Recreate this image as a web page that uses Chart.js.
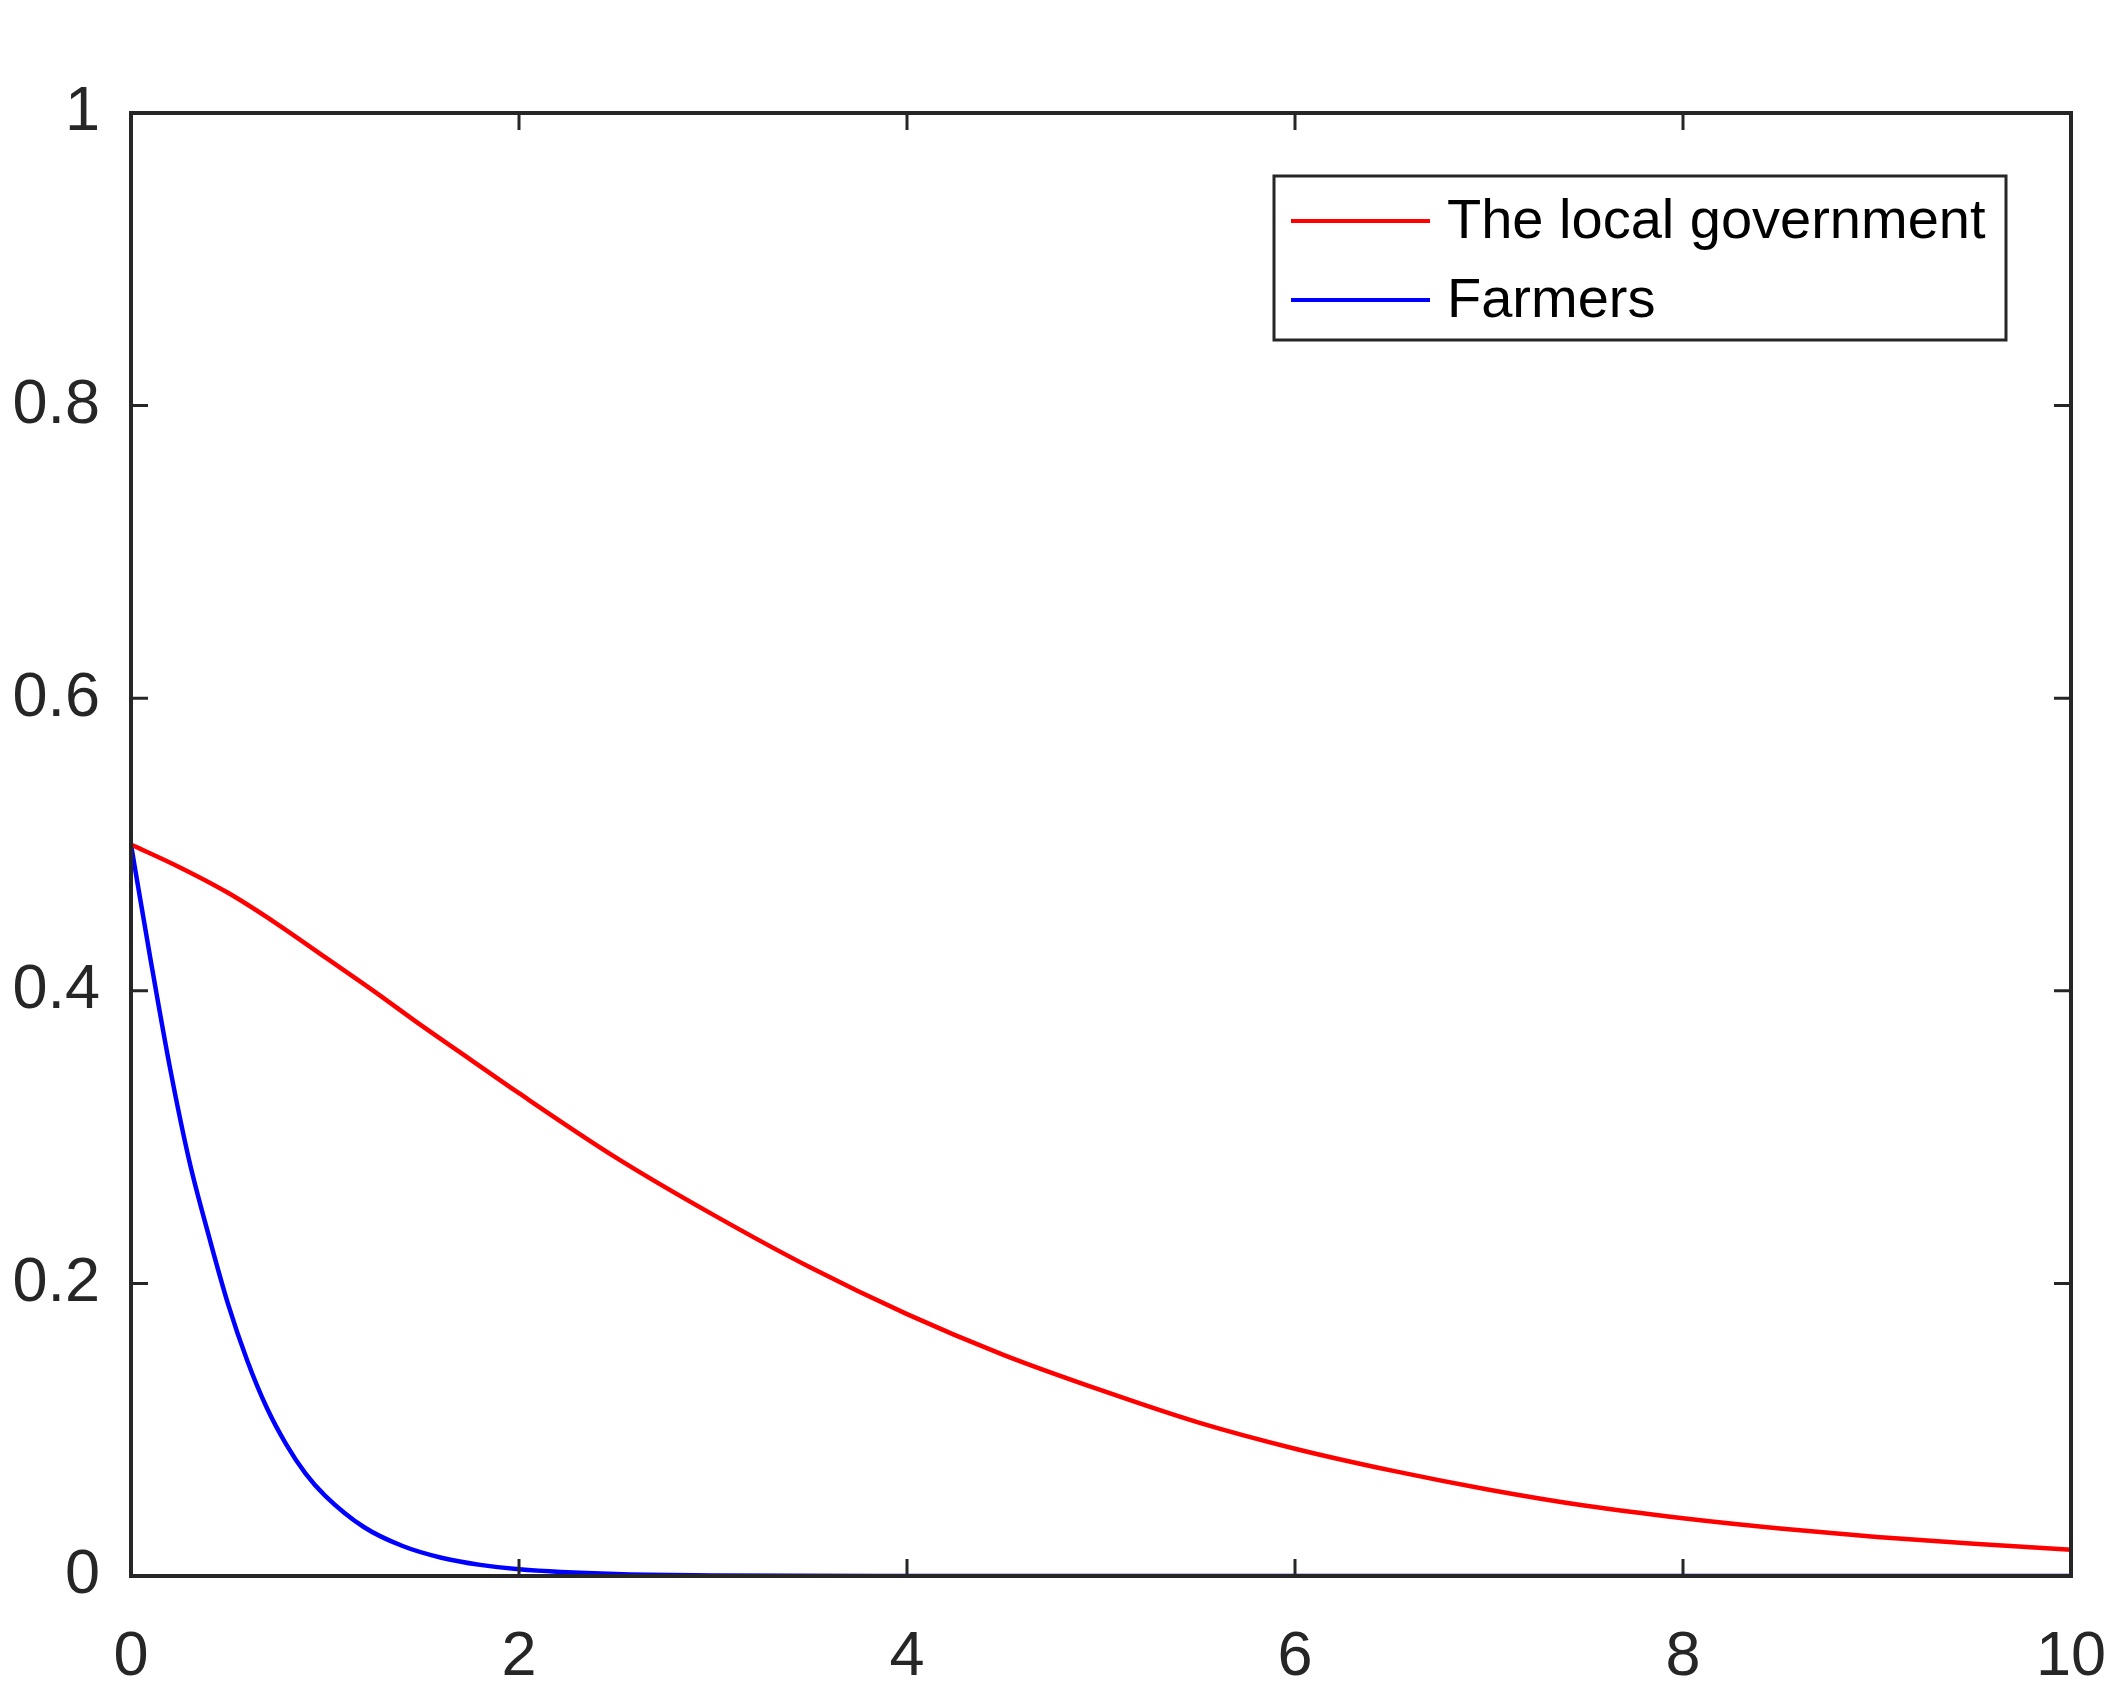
<!DOCTYPE html>
<html lang="en">
  <head>
    <meta charset="UTF-8" />
    <title>Evolution</title>
    <script src="https://cdn.jsdelivr.net/npm/chart.js"></script>
    <style>
      body { margin: 0; background: #fff; }
    </style>
  </head>
  <body>
    <canvas id="evoChart" width="2125" height="1698"></canvas>

    <script>
      // values
      const govTime = [0, 0.25, 0.5, 0.75, 1, 1.25, 1.5, 1.75, 2, 2.5, 3, 3.5, 4, 4.5, 5, 5.5, 6, 6.5, 7, 7.5, 8, 8.5, 9, 9.5, 10];
      const govValues = [0.5, 0.4845, 0.467, 0.446, 0.423, 0.4, 0.376, 0.353, 0.33, 0.286, 0.247, 0.211, 0.179, 0.151, 0.127, 0.105, 0.087, 0.072, 0.059, 0.048, 0.0395, 0.0325, 0.0267, 0.022, 0.018];

      const farmerTime = [0, 0.1, 0.2, 0.3, 0.4, 0.5, 0.6, 0.7, 0.8, 0.9, 1, 1.2, 1.4, 1.6, 1.8, 2, 2.5, 3, 4, 5, 6, 7, 8, 9, 10];
      const farmerValues = [0.5, 0.422, 0.348, 0.284, 0.233, 0.186, 0.147, 0.115, 0.09, 0.07, 0.055, 0.0335, 0.0205, 0.0125, 0.0076, 0.0046, 0.0013, 0.0004, 0, 0, 0, 0, 0, 0, 0];

      const seriesNames = ["The local government", "Farmers"];
      const xTicks = [0, 2, 4, 6, 8, 10];
      const yTicks = [0, 0.2, 0.4, 0.6, 0.8, 1];

      const axisColor = "#262626";
      const font = "Liberation Sans, Arial, Helvetica, sans-serif";

      const toPoints = (xs, ys) => xs.map((x, i) => ({ x: x, y: ys[i] }));

      // box round the axes with inward ticks on every side, like matlab
      const boxPlugin = {
        id: "box",
        afterDatasetsDraw(chart) {
          const { ctx, chartArea: a, scales } = chart;
          const len = 17;
          ctx.save();
          ctx.strokeStyle = axisColor;
          ctx.lineWidth = 4;
          ctx.strokeRect(a.left, a.top, a.right - a.left, a.bottom - a.top);
          ctx.lineWidth = 3;
          ctx.beginPath();
          xTicks.forEach((v) => {
            const px = scales.x.getPixelForValue(v);
            ctx.moveTo(px, a.bottom);
            ctx.lineTo(px, a.bottom - len);
            ctx.moveTo(px, a.top);
            ctx.lineTo(px, a.top + len);
          });
          yTicks.forEach((v) => {
            const py = scales.y.getPixelForValue(v);
            ctx.moveTo(a.left, py);
            ctx.lineTo(a.left + len, py);
            ctx.moveTo(a.right, py);
            ctx.lineTo(a.right - len, py);
          });
          ctx.stroke();
          ctx.restore();
        },
      };

      // legend box in the upper right corner of the axes
      const legendPlugin = {
        id: "boxLegend",
        afterDraw(chart) {
          const { ctx, chartArea: a } = chart;
          const left = a.right - 797;
          const top = a.top + 63;
          const w = 732;
          const h = 164;
          ctx.save();
          ctx.fillStyle = "#fff";
          ctx.fillRect(left, top, w, h);
          ctx.strokeStyle = axisColor;
          ctx.lineWidth = 3;
          ctx.strokeRect(left, top, w, h);
          ctx.font = "56px " + font;
          ctx.textBaseline = "middle";
          ctx.textAlign = "left";
          chart.data.datasets.forEach((ds, i) => {
            const y = top + 45 + i * 79;
            ctx.strokeStyle = ds.borderColor;
            ctx.lineWidth = 4;
            ctx.beginPath();
            ctx.moveTo(left + 17, y);
            ctx.lineTo(left + 156, y);
            ctx.stroke();
            ctx.fillStyle = "#000";
            ctx.fillText(ds.label, left + 173, y + 2);
          });
          ctx.restore();
        },
      };

      const ctx = document.getElementById("evoChart").getContext("2d");
      new Chart(ctx, {
        type: "line",
        data: {
          datasets: [
            {
              label: seriesNames[0],
              data: toPoints(govTime, govValues),
              borderColor: "#ff0000",
              borderWidth: 4.5,
              pointRadius: 0,
              cubicInterpolationMode: "monotone",
            },
            {
              label: seriesNames[1],
              data: toPoints(farmerTime, farmerValues),
              borderColor: "#0000ff",
              borderWidth: 4.5,
              pointRadius: 0,
              cubicInterpolationMode: "monotone",
            },
          ],
        },
        options: {
          responsive: false,
          animation: false,
          layout: { padding: { top: 113, right: 54, left: 0, bottom: 0 } },
          plugins: {
            legend: { display: false },
            tooltip: { enabled: false },
            title: { display: false },
          },
          scales: {
            x: {
              type: "linear",
              min: 0,
              max: 10,
              grid: { display: false },
              border: { display: false },
              afterFit: (s) => {
                s.height = 122;
                s.paddingLeft = 0;
                s.paddingRight = 0;
              },
              afterBuildTicks: (s) => { s.ticks = xTicks.map((v) => ({ value: v })); },
              ticks: {
                padding: 36,
                color: axisColor,
                font: { family: font, size: 63 },
                maxRotation: 0,
                callback: (v) => String(v),
              },
            },
            y: {
              min: 0,
              max: 1,
              grid: { display: false },
              border: { display: false },
              afterFit: (s) => {
                s.width = 131;
                s.paddingTop = 0;
                s.paddingBottom = 0;
              },
              afterBuildTicks: (s) => { s.ticks = yTicks.map((v) => ({ value: v })); },
              ticks: {
                padding: 23,
                color: axisColor,
                font: { family: font, size: 63 },
                callback: (v) => String(v),
              },
            },
          },
        },
        plugins: [boxPlugin, legendPlugin],
      });
    </script>
  </body>
</html>
